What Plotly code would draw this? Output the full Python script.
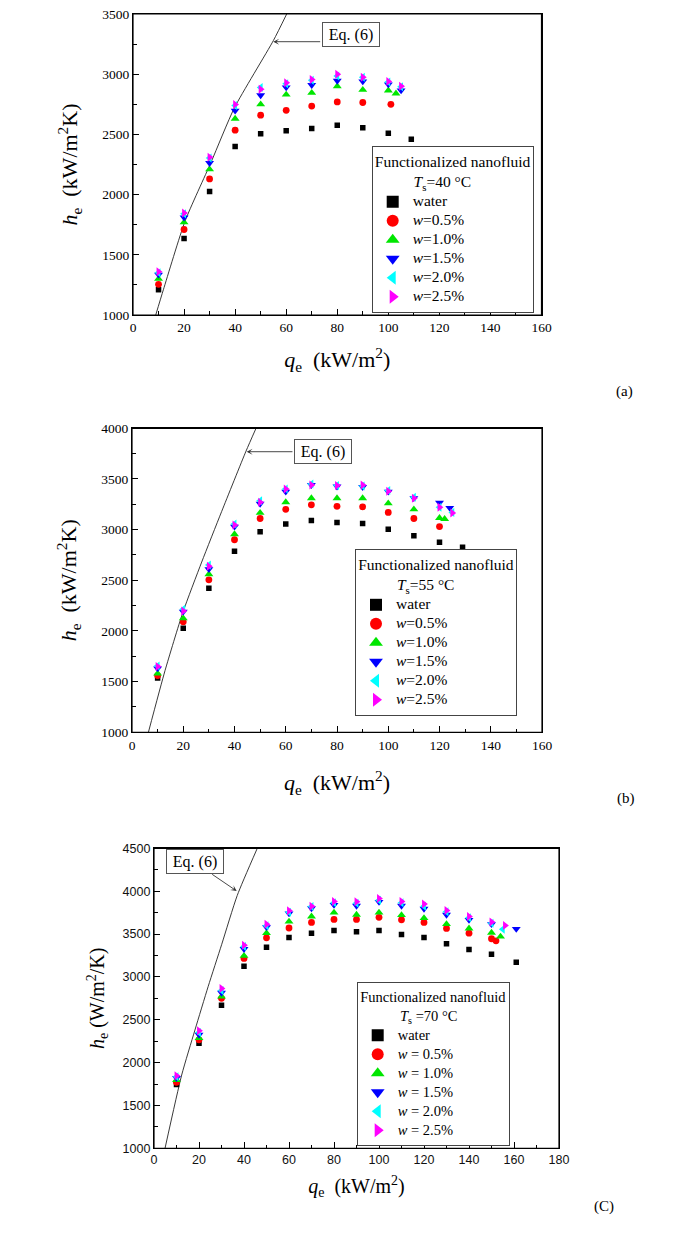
import plotly.graph_objects as go

# ---------------- data ----------------
series_names_ab = ["water", "<i>w</i>=0.5%", "<i>w</i>=1.0%", "<i>w</i>=1.5%", "<i>w</i>=2.0%", "<i>w</i>=2.5%"]
series_names_c = ["water", "<i>w</i> = 0.5%", "<i>w</i> = 1.0%", "<i>w</i> = 1.5%", "<i>w</i> = 2.0%", "<i>w</i> = 2.5%"]

# Panel (a): Ts = 40 C
qA_water = [10, 20, 30, 40, 50, 60, 70, 80, 90, 100, 109]
hA_water = [1210, 1635, 2025, 2400, 2505, 2530, 2550, 2575, 2555, 2510, 2460]
qA_w05 = [10, 20, 30, 40, 50, 60, 70, 80, 90, 101]
hA_w05 = [1255, 1710, 2130, 2535, 2660, 2700, 2735, 2770, 2765, 2750]
qA_w10 = [10, 20, 30, 40, 50, 60, 70, 80, 90, 100, 103]
hA_w10 = [1300, 1770, 2210, 2630, 2750, 2830, 2845, 2900, 2870, 2865, 2840]
qA_w15 = [10, 20, 30, 40, 50, 60, 70, 80, 90, 100, 105]
hA_w15 = [1335, 1810, 2262, 2697, 2825, 2890, 2910, 2945, 2940, 2915, 2865]
qA_w20 = [10, 20, 30, 40, 50, 60, 70, 80, 90, 100, 105]
hA_w20 = [1350, 1840, 2305, 2740, 2890, 2920, 2950, 2985, 2975, 2935, 2895]
qA_w25 = [10, 20, 30, 40, 50, 60, 70, 80, 90, 100, 105]
hA_w25 = [1360, 1848, 2310, 2748, 2875, 2930, 2955, 3000, 2975, 2940, 2900]
qA_eq = [8.9, 11.9, 20.4, 30.6, 39.7, 55.0, 60.2]
hA_eq = [1000, 1210, 1780, 2270, 2720, 3280, 3500]

# Panel (b): Ts = 55 C
qB_water = [10, 20, 30, 40, 50, 60, 70, 80, 90, 100, 110, 120, 129]
hB_water = [1535, 2028, 2421, 2787, 2978, 3055, 3090, 3070, 3060, 3005, 2940, 2875, 2825]
qB_w05 = [10, 20, 30, 40, 50, 60, 70, 80, 90, 100, 110, 120]
hB_w05 = [1560, 2090, 2505, 2900, 3110, 3200, 3245, 3230, 3225, 3170, 3110, 3030]
qB_w10 = [10, 20, 30, 40, 50, 60, 70, 80, 90, 100, 110, 120, 122]
hB_w10 = [1580, 2125, 2560, 2955, 3165, 3270, 3310, 3310, 3310, 3260, 3200, 3115, 3105]
qB_w15 = [10, 20, 30, 40, 50, 60, 70, 80, 90, 100, 110, 120, 124]
hB_w15 = [1630, 2190, 2610, 3030, 3255, 3375, 3440, 3425, 3420, 3375, 3310, 3265, 3215]
qB_w20 = [10, 20, 30, 40, 50, 60, 70, 80, 90, 100, 110, 120, 125]
hB_w20 = [1655, 2215, 2650, 3055, 3285, 3400, 3450, 3435, 3430, 3385, 3320, 3220, 3170]
qB_w25 = [10, 20, 30, 40, 50, 60, 70, 80, 90, 100, 110, 120, 125]
hB_w25 = [1650, 2198, 2638, 3046, 3270, 3400, 3440, 3435, 3440, 3380, 3310, 3220, 3165]
qB_eq = [6.4, 12.9, 19.8, 27.2, 35.0, 44.5, 48.4]
hB_eq = [1000, 1610, 2180, 2680, 3180, 3775, 4000]

# Panel (c): Ts = 70 C
qC_water = [10, 20, 30, 40, 50, 60, 70, 80, 90, 100, 110, 120, 130, 140, 150, 161]
hC_water = [1745, 2225, 2670, 3125, 3345, 3460, 3510, 3540, 3525, 3540, 3495, 3460, 3385, 3320, 3265, 3170]
qC_w05 = [10, 20, 30, 40, 50, 60, 70, 80, 90, 100, 110, 120, 130, 140, 150, 152]
hC_w05 = [1770, 2265, 2750, 3215, 3455, 3570, 3635, 3670, 3670, 3695, 3665, 3635, 3565, 3510, 3445, 3420]
qC_w10 = [10, 20, 30, 40, 50, 60, 70, 80, 90, 100, 110, 120, 130, 140, 150, 154]
hC_w10 = [1795, 2285, 2770, 3245, 3510, 3645, 3705, 3750, 3725, 3750, 3720, 3685, 3615, 3565, 3515, 3470]
qC_w15 = [10, 20, 30, 40, 50, 60, 70, 80, 90, 100, 110, 120, 130, 140, 150, 161]
hC_w15 = [1820, 2325, 2815, 3325, 3580, 3740, 3800, 3840, 3830, 3875, 3830, 3795, 3725, 3665, 3615, 3560]
qC_w20 = [10, 20, 30, 40, 50, 60, 70, 80, 90, 100, 110, 120, 130, 140, 150, 155]
hC_w20 = [1835, 2350, 2840, 3355, 3595, 3755, 3820, 3865, 3860, 3895, 3865, 3825, 3760, 3690, 3625, 3555]
qC_w25 = [10, 20, 30, 40, 50, 60, 70, 80, 90, 100, 110, 120, 130, 140, 150, 156]
hC_w25 = [1845, 2370, 2865, 3370, 3615, 3770, 3825, 3880, 3875, 3915, 3880, 3850, 3775, 3705, 3640, 3600]
qC_eq = [4.9, 12.3, 18.2, 24.1, 30.1, 37.0, 45.9]
hC_eq = [1000, 1855, 2380, 2890, 3380, 3950, 4500]

x_ticks_ab = [0, 20, 40, 60, 80, 100, 120, 140, 160]
x_ticks_c = [0, 20, 40, 60, 80, 100, 120, 140, 160, 180]
y_ticks_a = [1000, 1500, 2000, 2500, 3000, 3500]
y_ticks_b = [1000, 1500, 2000, 2500, 3000, 3500, 4000]
y_ticks_c = [1000, 1500, 2000, 2500, 3000, 3500, 4000, 4500]

# ---------------- styling ----------------
OFF = 8                      # the page body has an 8 px margin
W, H = 685 - OFF, 1235 - OFF
SERIF = "Liberation Serif"
SANS = "Liberation Sans"
symbols = ["square", "circle", "triangle-up", "triangle-down", "triangle-left", "triangle-right"]
colors = ["#000000", "#ff0000", "#00e600", "#0000ff", "#00ffff", "#ff00ff"]
sizes = [5.5, 6.8, 7.8, 7.8, 7.8, 7.8]
NB = "&nbsp;"


def px(xp):
    return (xp - OFF) / W


def py(yp):
    return 1 - (yp - OFF) / H


panels = [
    dict(ax="", leg="legend", q=[qA_water, qA_w05, qA_w10, qA_w15, qA_w20, qA_w25],
         h=[hA_water, hA_w05, hA_w10, hA_w15, hA_w20, hA_w25], qeq=qA_eq, heq=hA_eq,
         names=series_names_ab, xd=[133, 541.5], yd=[14, 315], xr=[0, 160], yr=[1000, 3500],
         xt=x_ticks_ab, yt=y_ticks_a,
         ltitle="Functionalized nanofluid<br>" + NB * 10 + "<i>T</i><sub>s</sub>=40 °C",
         tickfont=dict(family=SERIF, size=13.5, color="black"),
         xtitle="<i>q</i><sub>e</sub>&nbsp; (kW/m<sup>2</sup>)",
         ytitle="<i>h</i><sub>e</sub>&nbsp; (kW/m<sup>2</sup>K)", titlesize=22,
         legpos=(371.7, 146.0), legfs=15.5, eqbox=(85.2, 3330), eqtip=(54.95, 3270), eqtail=(73.9, 3270),
         tag="(a)", tagpos=(634.5, 381), xstand=17, ystand=18),
    dict(ax="2", leg="legend2", q=[qB_water, qB_w05, qB_w10, qB_w15, qB_w20, qB_w25],
         h=[hB_water, hB_w05, hB_w10, hB_w15, hB_w20, hB_w25], qeq=qB_eq, heq=hB_eq,
         names=series_names_ab, xd=[132, 542], yd=[428.3, 732.3], xr=[0, 160], yr=[1000, 4000],
         xt=x_ticks_ab, yt=y_ticks_b,
         ltitle="Functionalized nanofluid<br>" + NB * 10 + "<i>T</i><sub>s</sub>=55 °C",
         tickfont=dict(family=SERIF, size=13.5, color="black"),
         xtitle="<i>q</i><sub>e</sub>&nbsp; (kW/m<sup>2</sup>)",
         ytitle="<i>h</i><sub>e</sub>&nbsp; (kW/m<sup>2</sup>K)", titlesize=22,
         legpos=(355, 549), legfs=15.5, eqbox=(74.5, 3771), eqtip=(44.75, 3769), eqtail=(63.2, 3769),
         tag="(b)", tagpos=(636.5, 798), xstand=23, ystand=18),
    dict(ax="3", leg="legend3", q=[qC_water, qC_w05, qC_w10, qC_w15, qC_w20, qC_w25],
         h=[hC_water, hC_w05, hC_w10, hC_w15, hC_w20, hC_w25], qeq=qC_eq, heq=hC_eq,
         names=series_names_c, xd=[154, 559], yd=[848.3, 1148.3], xr=[0, 180], yr=[1000, 4500],
         xt=x_ticks_c, yt=y_ticks_c,
         ltitle="Functionalized nanofluid<br>" + NB * 11 + "<i>T</i><sub>s</sub> =70 °C",
         tickfont=dict(family=SANS, size=12.5, color="#111"),
         xtitle="<i>q</i><sub>e</sub>&nbsp; (kW/m<sup>2</sup>)",
         ytitle="<i>h</i><sub>e</sub> (W/m<sup>2</sup>/K)", titlesize=20,
         legpos=(356.7, 982), legfs=14.5, eqbox=(18.44, 4350), eqtip=(36.75, 4002), eqtail=(25.2, 4208),
         tag="(C)", tagpos=(616, 1217), xstand=12, ystand=12),
]

fig = go.Figure()
layout = dict(width=W, height=H, margin=dict(l=0, r=0, t=0, b=0),
              paper_bgcolor="white", plot_bgcolor="white", showlegend=True)
annotations = []
shapes = []

for p in panels:
    xa, ya = "x" + p["ax"], "y" + p["ax"]
    # correlation curve Eq. (6)
    fig.add_trace(go.Scatter(x=p["qeq"], y=p["heq"], mode="lines", xaxis=xa, yaxis=ya,
                             line=dict(color="#222", width=0.9, shape="spline", smoothing=0.6),
                             showlegend=False, hoverinfo="skip"))
    for i in range(6):
        fig.add_trace(go.Scatter(
            x=p["q"][i], y=p["h"][i], mode="markers", xaxis=xa, yaxis=ya,
            name='<span style="font-family:Liberation Serif;font-size:%spx">%s</span>' % (p["legfs"], p["names"][i]),
            legend=p["leg"],
            marker=dict(symbol=symbols[i], color=colors[i], size=sizes[i], line=dict(width=0)),
        ))
    axis_common = dict(showline=True, mirror=True, linecolor="black", linewidth=1.2,
                       showgrid=False, zeroline=False, ticks="inside", tickcolor="black",
                       ticklen=6, tickwidth=1, tickfont=p["tickfont"], automargin=False,
                       ticklabeloverflow="allow")
    layout["xaxis" + p["ax"]] = dict(
        axis_common, domain=[px(p["xd"][0]), px(p["xd"][1])], range=p["xr"],
        tickvals=p["xt"], anchor=ya,
        minor=dict(dtick=10, tick0=0, ticks="inside", ticklen=3.5, tickcolor="black", showgrid=False),
        title=dict(text=p["xtitle"], font=dict(family=SERIF, size=p["titlesize"], color="black"),
                   standoff=p["xstand"]))
    layout["yaxis" + p["ax"]] = dict(
        axis_common, domain=[py(p["yd"][1]), py(p["yd"][0])], range=p["yr"],
        tickvals=p["yt"], anchor=xa,
        minor=dict(dtick=250, tick0=1000, ticks="inside", ticklen=3.5, tickcolor="black", showgrid=False),
        title=dict(text=p["ytitle"], font=dict(family=SERIF, size=p["titlesize"], color="black"),
                   standoff=p["ystand"]))
    layout[p["leg"]] = dict(
        x=px(p["legpos"][0]), y=py(p["legpos"][1]), xanchor="left", yanchor="top",
        xref="paper", yref="paper",
        bgcolor="white", bordercolor="#444", borderwidth=1,
        font=dict(family=SERIF, size=12, color="black"),
        title=dict(text=p["ltitle"], side="top center",
                   font=dict(family=SERIF, size=p["legfs"], color="black")),
        itemsizing="constant", tracegroupgap=0,
    )
    # frame of the plot area
    shapes.append(dict(type="rect", xref=xa + " domain", yref=ya + " domain", x0=0, x1=1, y0=0, y1=1,
                       line=dict(color="black", width=1.2), fillcolor="rgba(0,0,0,0)", layer="above"))
    # Eq. (6) label box and its arrow
    annotations.append(dict(x=p["eqbox"][0], y=p["eqbox"][1], xref=xa, yref=ya, text="Eq. (6)",
                            showarrow=False, font=dict(family=SERIF, size=16, color="black"),
                            bordercolor="#555", borderwidth=1, borderpad=2, bgcolor="white",
                            width=52, height=19))
    annotations.append(dict(x=p["eqtip"][0], y=p["eqtip"][1], ax=p["eqtail"][0], ay=p["eqtail"][1],
                            xref=xa, yref=ya, axref=xa, ayref=ya, text="", showarrow=True,
                            arrowhead=3, arrowsize=1.1, arrowwidth=0.9, arrowcolor="#333", standoff=0))
    annotations.append(dict(x=px(p["tagpos"][0]), y=py(p["tagpos"][1]), xref="paper", yref="paper",
                            text=p["tag"], showarrow=False,
                            font=dict(family=SERIF, size=15, color="black")))

layout["annotations"] = annotations
layout["shapes"] = shapes
fig.update_layout(**layout)
fig.write_html("out.html")
